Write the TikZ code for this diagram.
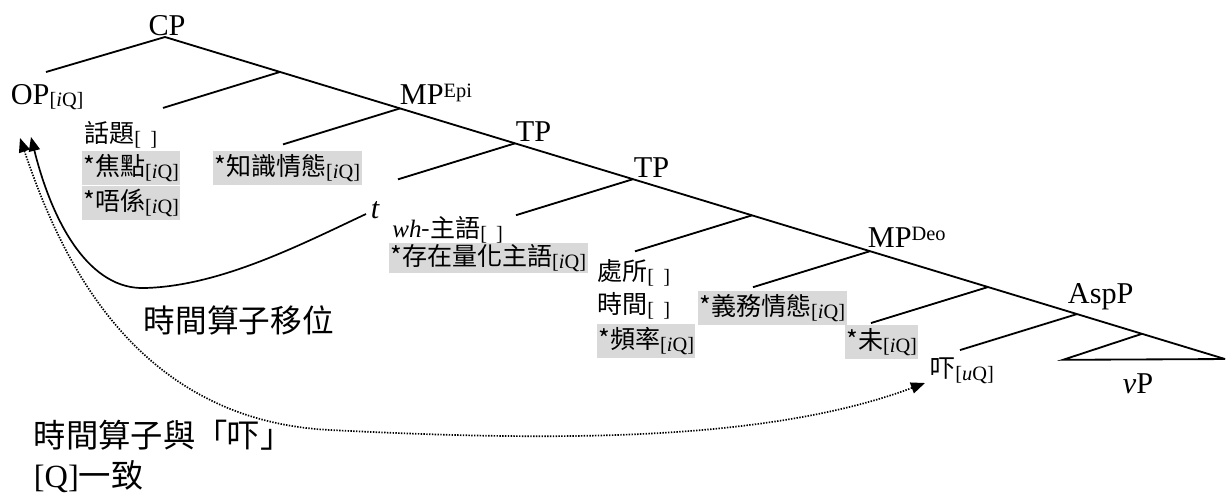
\documentclass[tikz,border=0pt]{standalone}
\usepackage{fontspec}
\setmainfont{Liberation Serif}
\newfontfamily\cjk{Noto Sans CJK TC}
\usetikzlibrary{arrows.meta}
\definecolor{featgray}{RGB}{217,217,217}
\newcommand{\fsub}[1]{\raisebox{-2pt}{\fontsize{14.5}{16}\selectfont\rmfamily\relax #1}}
\newcommand{\fsup}[1]{\raisebox{4.5pt}{\fontsize{14.5}{16}\selectfont\rmfamily\relax #1}}

\begin{document}
\begin{tikzpicture}[x=0.025cm, y=-0.025cm, line width=1.3pt,
    cat/.style={font=\fontsize{21.5}{24}\selectfont, inner sep=0pt, anchor=base west},
    feat/.style={font=\cjk\fontsize{17.8}{21}\selectfont, inner sep=1pt, anchor=west, minimum height=24pt},
    badfeat/.style={feat, fill=featgray},
    gloss/.style={font=\cjk\fontsize{22.5}{26}\selectfont, inner sep=0pt, anchor=west},
    movetip/.style={-{Triangle[length=10pt,width=8pt]}}]
        \useasboundingbox (0,0) rectangle (1232,493);

        % Rueckgrat
        \foreach \n/\x in {cp/165, cbar/280, mpepi/400, tpa/515, tpb/633, tbar/752, mpdeo/870, mbar/988, asp/1077, vp/1142, vpr/1225}
            \coordinate (\n) at (\x, {37+0.3038*(\x-165)});
        \draw (cp) -- (cbar) -- (mpepi) -- (tpa) -- (tpb) -- (tbar) -- (mpdeo) -- (mbar) -- (asp) -- (vp) -- (vpr);
        % linke Aeste
        \draw (cp) -- ++(-119,35) coordinate (cp-leaf);
        \foreach \n in {cbar, mpepi, tpa, tpb, tbar, mpdeo, mbar, asp}
            \draw (\n) -- ++(-117,36) coordinate (\n-leaf);
        \draw (vp) -- ++(-79,26) coordinate (vpl) -- (vpr);

        % Kategorien
        \node [cat, anchor=base] (cplab) at (167,35) {CP};
        \node [cat] (op) at (10,104) {OP\fsub{[\textit{i}Q]}};
        \node [cat] (mpepilab) at (399,104) {MP\fsup{Epi}};
        \node [cat] (tpalab) at (515,141) {TP};
        \node [cat] (tpblab) at (633,177) {TP};
        \node [cat] (mpdeolab) at (867,247) {MP\fsup{Deo}};
        \node [cat] (asplab) at (1067,303) {AspP};
        \node [cat] (vplab) at (1122,393) {\textit{v}P};
        \node [cat] (t) at (370,218) {\textit{t}};

        % Merkmale
        \node [feat] (topic) at (82,135) {話題\fsub{[\hspace{0.45em}]}};
        \node [badfeat] (focus) at (81,168) {*焦點\fsub{[\textit{i}Q]}};
        \node [badfeat] (neg) at (81,203) {*唔係\fsub{[\textit{i}Q]}};
        \node [badfeat] (epist) at (212,168) {*知識情態\fsub{[\textit{i}Q]}};
        \node [feat, minimum height=20pt] (whsubj) at (390,230) {{\rmfamily\itshape wh}-主語\fsub{[\hspace{0.45em}]}};
        \node [badfeat, minimum height=21pt] (exsubj) at (388,258) {*存在量化主語\fsub{[\textit{i}Q]}};
        \node [feat] (place) at (595,273) {處所\fsub{[\hspace{0.45em}]}};
        \node [feat] (time) at (595,306) {時間\fsub{[\hspace{0.45em}]}};
        \node [badfeat] (freq) at (596,341) {*頻率\fsub{[\textit{i}Q]}};
        \node [badfeat] (deont) at (697,308) {*義務情態\fsub{[\textit{i}Q]}};
        \node [badfeat] (notyet) at (844,342) {*未\fsub{[\textit{i}Q]}};
        \node [feat] (xia) at (928,371) {吓\fsub{[\textit{u}Q]}};

        % Bewegung und Kongruenz
        \draw [movetip, line width=1.2pt] ([shift={(-4,-4)}]t.base west) .. controls (300,245) and (220,286) .. (145,288)
            .. controls (90,290) and (53,225) .. ([shift={(21,33)}]op.base west);
        \draw [line width=1.2pt, dash pattern=on 1pt off 1pt, {Triangle[length=10pt,width=8pt]}-{Triangle[length=10pt,width=8pt]}]
            ([shift={(10,34)}]op.base west) .. controls (58,250) and (130,420) .. (330,430)
            .. controls (530,440) and (760,445) .. ([shift={(-3,12)}]xia.west);

        \node [gloss] (movelab) at (143,320) {時間算子移位};
        \node [gloss, font=\cjk\fontsize{23}{26}\selectfont] (agreelab) at (33,435) {時間算子與「吓」};
        \node [gloss, font=\cjk\fontsize{23}{26}\selectfont] (agreelab2) at (33,477) {{\rmfamily\relax [Q]}一致};
\end{tikzpicture}
\end{document}
